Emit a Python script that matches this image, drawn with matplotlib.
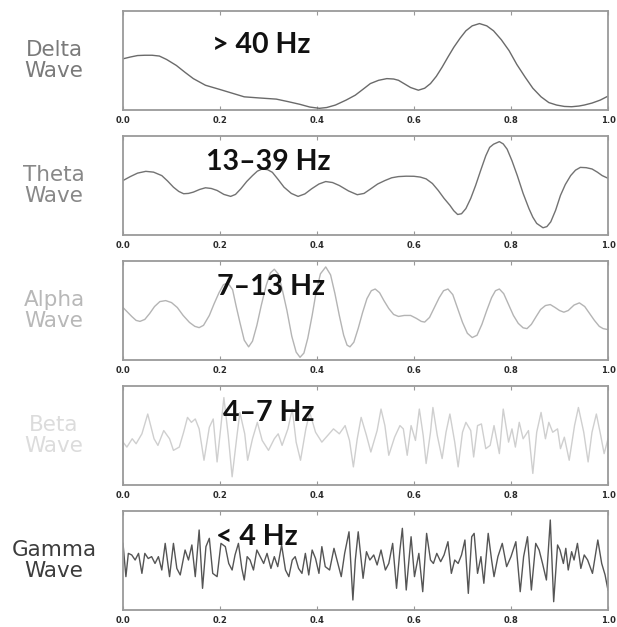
import matplotlib
matplotlib.use("Agg")
import matplotlib.pyplot as plt

# ---------------- data (heights as fraction of panel) ----
wave_names = ["Delta\nWave", "Theta\nWave", "Alpha\nWave", "Beta\nWave", "Gamma\nWave"]
freq_labels = ["> 40 Hz", "13\u201339 Hz", "7\u201313 Hz", "4\u20137 Hz", "< 4 Hz"]
tick_values = [0.0, 0.2, 0.4, 0.6, 0.8, 1.0]
tick_labels = ["0.0", "0.2", "0.4", "0.6", "0.8", "1.0"]

delta_x = [0.0, 0.015, 0.03, 0.045, 0.06, 0.075, 0.09, 0.11, 0.128, 0.145, 0.17, 0.2,
           0.225, 0.25, 0.28, 0.316, 0.34, 0.365, 0.385, 0.405, 0.42, 0.438, 0.46,
           0.479, 0.495, 0.51, 0.527, 0.544, 0.558, 0.568, 0.58, 0.593, 0.609, 0.622,
           0.634, 0.646, 0.658, 0.67, 0.682, 0.695, 0.707, 0.72, 0.735, 0.75, 0.764,
           0.78, 0.796, 0.812, 0.829, 0.845, 0.862, 0.878, 0.894, 0.91, 0.925, 0.94,
           0.951, 0.967, 0.984, 1.0]
delta_y = [0.517, 0.535, 0.55, 0.553, 0.553, 0.545, 0.51, 0.45, 0.38, 0.317, 0.25, 0.207,
           0.17, 0.133, 0.122, 0.11, 0.085, 0.057, 0.03, 0.017, 0.025, 0.05, 0.1,
           0.15, 0.21, 0.267, 0.3, 0.317, 0.313, 0.30, 0.265, 0.227, 0.2, 0.22,
           0.267, 0.34, 0.433, 0.535, 0.633, 0.725, 0.8, 0.85, 0.873, 0.85, 0.8,
           0.71, 0.6, 0.46, 0.333, 0.22, 0.133, 0.075, 0.05, 0.036, 0.033, 0.04,
           0.05, 0.07, 0.1, 0.14]

theta_x = [0.0, 0.015, 0.03, 0.047, 0.063, 0.08, 0.092, 0.104, 0.115, 0.125, 0.135,
           0.145, 0.158, 0.17, 0.182, 0.194, 0.208, 0.222, 0.232, 0.243, 0.255, 0.267,
           0.277, 0.287, 0.298, 0.308, 0.32, 0.332, 0.347, 0.361, 0.375, 0.389, 0.404,
           0.418, 0.432, 0.446, 0.465, 0.483, 0.497, 0.511, 0.525, 0.54, 0.554, 0.568,
           0.584, 0.6, 0.613, 0.625, 0.638, 0.65, 0.662, 0.674, 0.682, 0.69, 0.698,
           0.707, 0.717, 0.727, 0.738, 0.748, 0.756, 0.764, 0.776, 0.784, 0.792, 0.802,
           0.813, 0.825, 0.837, 0.845, 0.853, 0.866, 0.874, 0.882, 0.892, 0.902, 0.912,
           0.923, 0.933, 0.943, 0.955, 0.967, 0.978, 0.988, 1.0]
theta_y = [0.55, 0.59, 0.625, 0.643, 0.635, 0.6, 0.545, 0.483, 0.44, 0.417, 0.42,
           0.433, 0.46, 0.477, 0.47, 0.45, 0.41, 0.39, 0.41, 0.467, 0.54, 0.6,
           0.645, 0.667, 0.66, 0.633, 0.56, 0.483, 0.42, 0.39, 0.415, 0.467, 0.515,
           0.54, 0.53, 0.5, 0.445, 0.407, 0.42, 0.467, 0.515, 0.55, 0.578, 0.59,
           0.594, 0.593, 0.585, 0.567, 0.52, 0.45, 0.37, 0.3, 0.245, 0.207, 0.215,
           0.267, 0.37, 0.5, 0.66, 0.8, 0.885, 0.917, 0.943, 0.92, 0.867, 0.75,
           0.6, 0.42, 0.267, 0.18, 0.117, 0.073, 0.085, 0.133, 0.25, 0.4, 0.51,
           0.6, 0.655, 0.683, 0.68, 0.667, 0.635, 0.6, 0.573]

alpha_x = [0.0, 0.008, 0.018, 0.027, 0.035, 0.045, 0.055, 0.065, 0.076, 0.088, 0.1,
           0.112, 0.124, 0.137, 0.148, 0.157, 0.166, 0.178, 0.188, 0.198, 0.207, 0.216,
           0.226, 0.233, 0.241, 0.25, 0.259, 0.267, 0.276, 0.285, 0.295, 0.304, 0.312,
           0.32, 0.328, 0.338, 0.348, 0.357, 0.365, 0.373, 0.381, 0.39, 0.398, 0.407,
           0.418, 0.428, 0.437, 0.446, 0.455, 0.462, 0.468, 0.476, 0.485, 0.494, 0.503,
           0.512, 0.52, 0.529, 0.538, 0.548, 0.558, 0.568, 0.58, 0.593, 0.605, 0.615,
           0.622, 0.632, 0.642, 0.652, 0.661, 0.67, 0.68, 0.69, 0.7, 0.71, 0.72,
           0.73, 0.74, 0.75, 0.76, 0.768, 0.776, 0.785, 0.795, 0.805, 0.815, 0.825,
           0.833, 0.842, 0.852, 0.861, 0.871, 0.881, 0.891, 0.9, 0.909, 0.918, 0.93,
           0.941, 0.952, 0.962, 0.972, 0.982, 0.99, 1.0]
alpha_y = [0.53, 0.49, 0.44, 0.40, 0.39, 0.41, 0.47, 0.54, 0.59, 0.60, 0.58,
           0.53, 0.45, 0.38, 0.34, 0.327, 0.35, 0.45, 0.57, 0.68, 0.76, 0.78,
           0.71, 0.55, 0.38, 0.20, 0.133, 0.19, 0.35, 0.55, 0.75, 0.88, 0.917,
           0.87, 0.72, 0.5, 0.24, 0.08, 0.027, 0.07, 0.22, 0.45, 0.68, 0.87,
           0.94, 0.86, 0.67, 0.45, 0.25, 0.15, 0.133, 0.18, 0.32, 0.48, 0.62,
           0.70, 0.717, 0.68, 0.60, 0.52, 0.46, 0.44, 0.45, 0.45, 0.42, 0.39,
           0.383, 0.43, 0.53, 0.63, 0.70, 0.717, 0.66, 0.52, 0.38, 0.27, 0.227,
           0.25, 0.36, 0.5, 0.63, 0.70, 0.717, 0.67, 0.56, 0.45, 0.37, 0.325,
           0.317, 0.36, 0.44, 0.51, 0.55, 0.56, 0.53, 0.5, 0.483, 0.5, 0.555,
           0.577, 0.54, 0.47, 0.4, 0.34, 0.317, 0.307]

beta_x = [0.0, 0.008, 0.019, 0.027, 0.039, 0.051, 0.064, 0.072, 0.084, 0.096, 0.104,
          0.116, 0.125, 0.133, 0.141, 0.149, 0.157, 0.167, 0.178, 0.186, 0.194, 0.202,
          0.208, 0.217, 0.225, 0.235, 0.241, 0.251, 0.257, 0.267, 0.277, 0.287, 0.3,
          0.312, 0.32, 0.328, 0.34, 0.349, 0.357, 0.366, 0.377, 0.385, 0.397, 0.41,
          0.422, 0.434, 0.446, 0.458, 0.467, 0.475, 0.483, 0.491, 0.502, 0.511, 0.524,
          0.532, 0.54, 0.548, 0.56, 0.571, 0.578, 0.586, 0.594, 0.603, 0.611, 0.619,
          0.625, 0.634, 0.639, 0.648, 0.658, 0.666, 0.674, 0.684, 0.691, 0.7, 0.707,
          0.717, 0.723, 0.731, 0.739, 0.748, 0.757, 0.765, 0.776, 0.784, 0.795, 0.802,
          0.809, 0.817, 0.825, 0.836, 0.845, 0.853, 0.862, 0.871, 0.878, 0.886, 0.896,
          0.902, 0.91, 0.92, 0.931, 0.939, 0.95, 0.959, 0.967, 0.976, 0.985, 0.992, 1.0]
beta_y = [0.433, 0.383, 0.467, 0.417, 0.517, 0.717, 0.467, 0.4, 0.55, 0.467, 0.35,
          0.383, 0.533, 0.683, 0.633, 0.667, 0.567, 0.25, 0.583, 0.667, 0.233, 0.6,
          0.883, 0.5, 0.083, 0.5, 0.733, 0.517, 0.25, 0.467, 0.633, 0.45, 0.35,
          0.467, 0.517, 0.4, 0.567, 0.767, 0.433, 0.25, 0.567, 0.733, 0.533, 0.433,
          0.5, 0.567, 0.517, 0.6, 0.45, 0.183, 0.467, 0.683, 0.5, 0.333, 0.55,
          0.767, 0.6, 0.3, 0.483, 0.6, 0.567, 0.3, 0.6, 0.45, 0.767, 0.5,
          0.217, 0.533, 0.783, 0.5, 0.267, 0.533, 0.717, 0.433, 0.183, 0.533, 0.633,
          0.55, 0.283, 0.6, 0.617, 0.367, 0.4, 0.6, 0.317, 0.767, 0.433, 0.567,
          0.383, 0.633, 0.467, 0.55, 0.117, 0.533, 0.733, 0.467, 0.633, 0.533, 0.567,
          0.367, 0.483, 0.25, 0.6, 0.783, 0.533, 0.233, 0.533, 0.717, 0.5, 0.317, 0.467]

gamma_x = [0.0, 0.006, 0.011, 0.018, 0.025, 0.032, 0.039, 0.045, 0.052, 0.059, 0.066,
           0.073, 0.08, 0.087, 0.096, 0.104, 0.111, 0.118, 0.128, 0.135, 0.142, 0.149,
           0.157, 0.164, 0.171, 0.178, 0.185, 0.194, 0.202, 0.211, 0.218, 0.225, 0.231,
           0.238, 0.245, 0.25, 0.256, 0.262, 0.269, 0.276, 0.283, 0.29, 0.297, 0.305,
           0.312, 0.319, 0.327, 0.335, 0.342, 0.349, 0.355, 0.362, 0.369, 0.376, 0.383,
           0.39, 0.397, 0.404, 0.41, 0.417, 0.426, 0.435, 0.443, 0.45, 0.457, 0.466,
           0.474, 0.479, 0.485, 0.495, 0.502, 0.509, 0.517, 0.524, 0.532, 0.541, 0.548,
           0.556, 0.564, 0.571, 0.576, 0.584, 0.594, 0.601, 0.61, 0.618, 0.626, 0.634,
           0.64, 0.647, 0.655, 0.662, 0.67, 0.677, 0.684, 0.691, 0.698, 0.705, 0.712,
           0.719, 0.724, 0.731, 0.738, 0.744, 0.753, 0.76, 0.765, 0.773, 0.782, 0.791,
           0.8, 0.81, 0.819, 0.826, 0.834, 0.842, 0.851, 0.858, 0.865, 0.873, 0.881,
           0.888, 0.896, 0.901, 0.908, 0.913, 0.918, 0.925, 0.93, 0.937, 0.944, 0.951,
           0.958, 0.968, 0.979, 0.987, 0.994, 1.0]
gamma_y = [0.673, 0.337, 0.572, 0.556, 0.505, 0.572, 0.37, 0.572, 0.52, 0.539, 0.47,
           0.539, 0.404, 0.673, 0.337, 0.673, 0.42, 0.354, 0.606, 0.505, 0.657, 0.337,
           0.808, 0.219, 0.64, 0.724, 0.37, 0.337, 0.673, 0.64, 0.47, 0.404, 0.556,
           0.673, 0.42, 0.303, 0.539, 0.505, 0.404, 0.606, 0.539, 0.47, 0.572, 0.42,
           0.539, 0.438, 0.657, 0.404, 0.337, 0.505, 0.539, 0.42, 0.37, 0.572, 0.354,
           0.606, 0.52, 0.37, 0.64, 0.438, 0.404, 0.623, 0.47, 0.337, 0.572, 0.79,
           0.101, 0.505, 0.79, 0.32, 0.589, 0.505, 0.556, 0.455, 0.606, 0.404, 0.47,
           0.673, 0.219, 0.606, 0.825, 0.202, 0.74, 0.337, 0.572, 0.185, 0.774, 0.505,
           0.47, 0.572, 0.488, 0.556, 0.69, 0.37, 0.505, 0.47, 0.556, 0.707, 0.168,
           0.74, 0.774, 0.37, 0.539, 0.27, 0.774, 0.505, 0.337, 0.539, 0.673, 0.438,
           0.539, 0.69, 0.185, 0.539, 0.74, 0.202, 0.673, 0.606, 0.47, 0.303, 0.909,
           0.084, 0.657, 0.606, 0.47, 0.623, 0.404, 0.589, 0.505, 0.673, 0.42, 0.556,
           0.505, 0.37, 0.707, 0.47, 0.354, 0.2]

series_x = [delta_x, theta_x, alpha_x, beta_x, gamma_x]
series_y = [delta_y, theta_y, alpha_y, beta_y, gamma_y]

# ---------------- styling ----------------
line_colors = ["#6a6a6a", "#727272", "#b4b4b4", "#cfcfcf", "#555555"]
name_colors = ["#7a7a7a", "#888888", "#b8b8b8", "#dcdcdc", "#3c3c3c"]
freq_pos = [(0.184, 0.66), (0.172, 0.737), (0.194, 0.737), (0.207, 0.727), (0.192, 0.737)]

W, H = 617, 627
fig = plt.figure(figsize=(W / 100, H / 100), dpi=100)
fig.patch.set_facecolor("white")

left_px, right_px = 123, 608
for k in range(5):
    top_px = 11 + 125 * k
    bot_px = top_px + 99
    ax = fig.add_axes([left_px / W, 1 - bot_px / H, (right_px - left_px) / W, 99 / H])
    ax.plot(series_x[k], series_y[k], color=line_colors[k], lw=1.0, solid_joinstyle="round")
    ax.set_xlim(0, 1)
    ax.set_ylim(0, 1)
    ax.set_yticks([])
    ax.set_xticks(tick_values)
    ax.set_xticklabels(tick_labels, fontsize=6, fontweight="bold", color="#2a2a2a")
    ax.tick_params(axis="x", direction="in", length=3, width=0.8, color="#999999",
                   top=True, bottom=True, pad=4)
    for sp in ax.spines.values():
        sp.set_color("#9a9a9a")
        sp.set_linewidth(1.3)
    fx, fy = freq_pos[k]
    ax.text(fx, fy, freq_labels[k], transform=ax.transAxes, ha="left", va="center",
            fontsize=20.5, fontweight="bold", family=["Lato", "DejaVu Sans"], color="#111111",
            zorder=5)
    fig.text(54 / W, 1 - (top_px + 49.5) / H, wave_names[k], ha="center", va="center",
             fontsize=15.5, color=name_colors[k], linespacing=1.05,
             family=["DejaVu Sans"])

fig.savefig("out.png", dpi=100, facecolor="white")
